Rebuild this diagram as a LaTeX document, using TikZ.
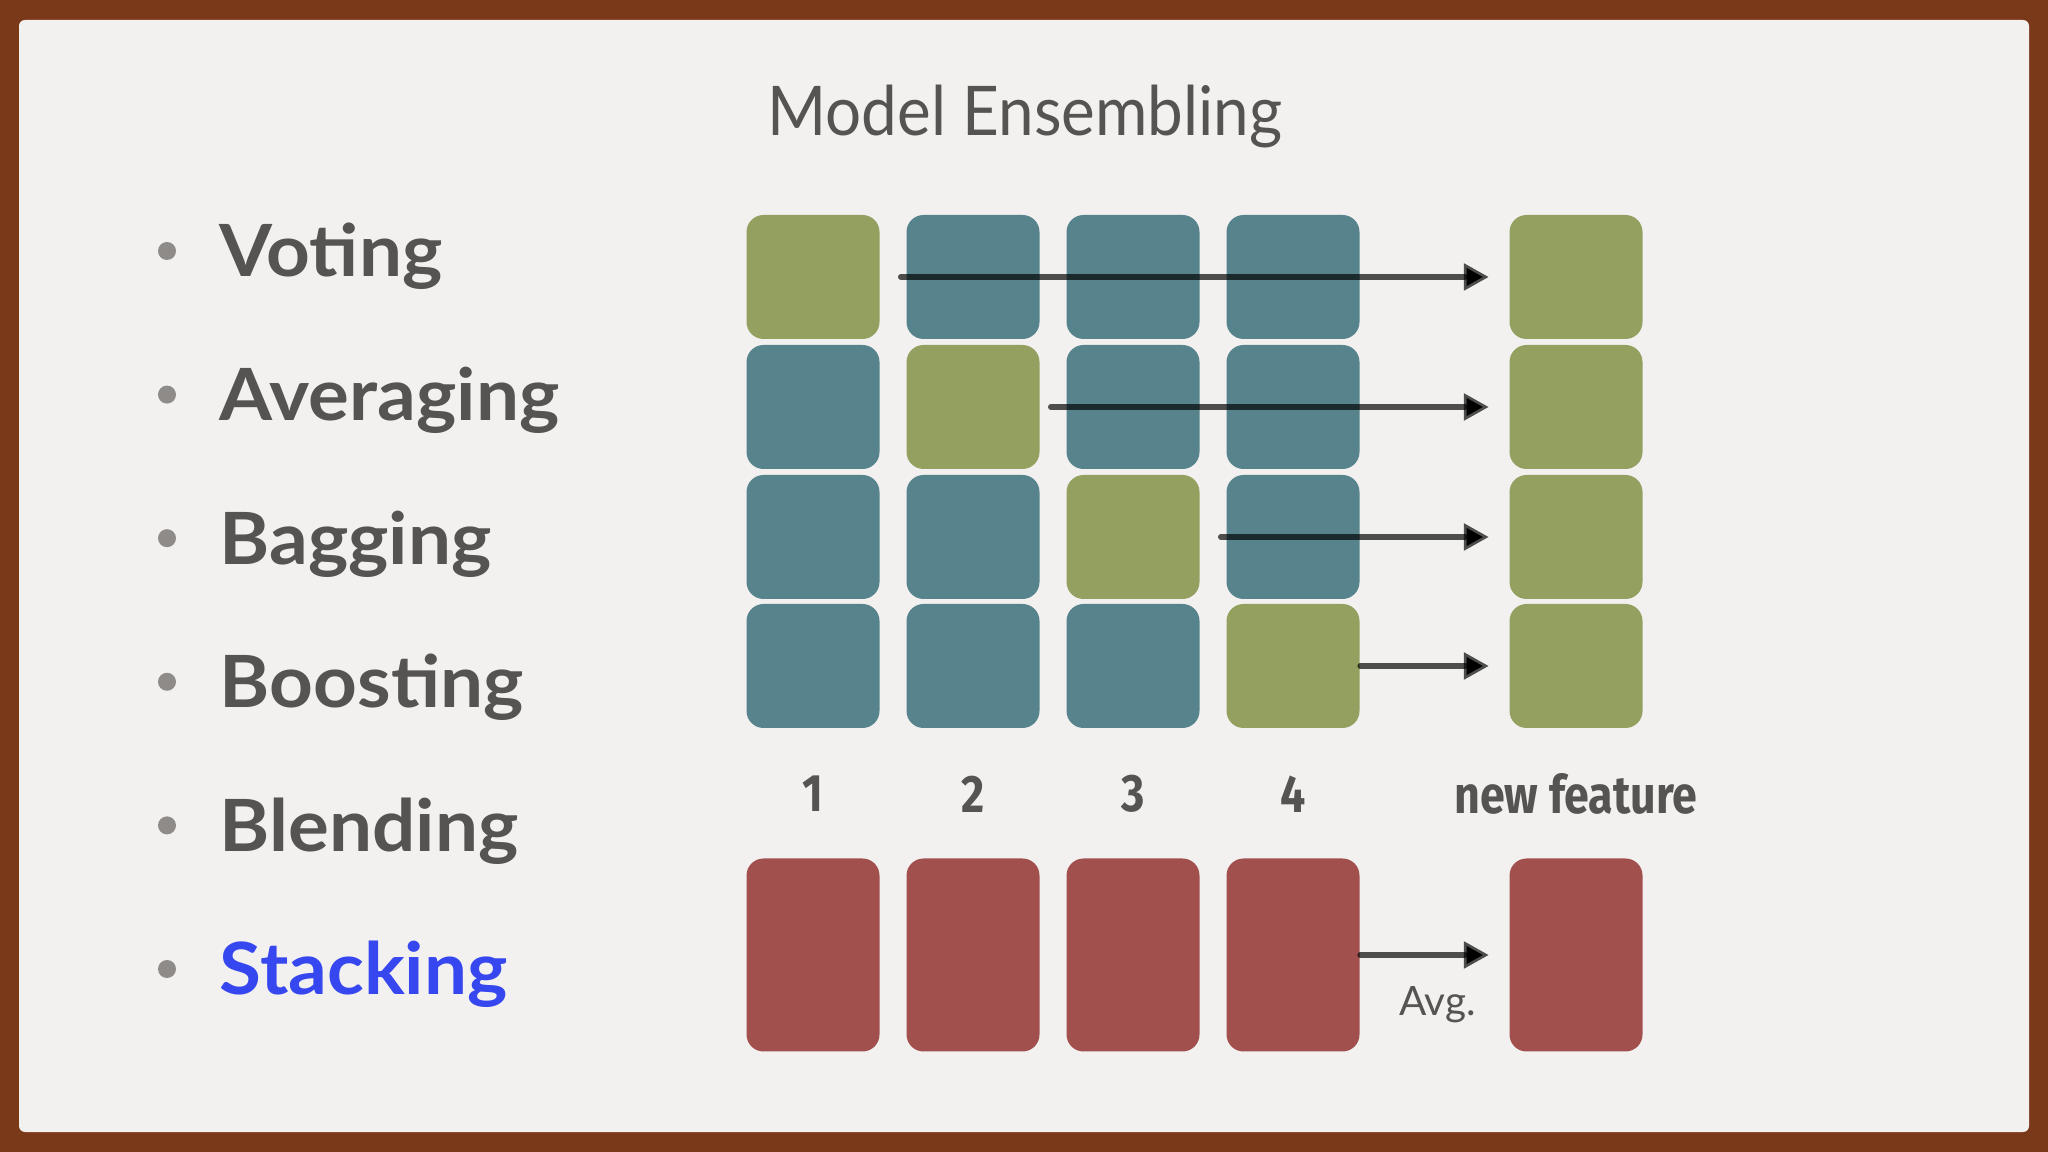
\documentclass[tikz,border=0pt]{standalone}
\usepackage{fontspec}
\setmainfont{Lato}
\newfontfamily\titlefont{Lato}[FakeStretch=0.93]
\newfontfamily\itemfont{Lato}[FakeStretch=1.06]
\newfontfamily\numfont{Fira Sans}[FakeStretch=0.85]
\usetikzlibrary{arrows.meta}

\definecolor{framebrown}{HTML}{7A3A1A}
\definecolor{paper}{HTML}{F2F1EF}
\definecolor{ink}{HTML}{555453}
\definecolor{dotgray}{HTML}{8E8B89}
\definecolor{olivebox}{HTML}{93A060}
\definecolor{tealbox}{HTML}{56838C}
\definecolor{brickbox}{HTML}{A2504E}
\definecolor{stackblue}{HTML}{3747F0}

\begin{document}
\begin{tikzpicture}[x=0.1mm, y=-0.1mm,
    box/.style={rectangle, rounded corners=1.7mm, minimum width=13.3mm, minimum height=12.4mm, inner sep=0pt},
    tallbox/.style={box, fill=brickbox, minimum height=19.3mm},
    item/.style={anchor=base west, inner sep=0pt, font=\itemfont\fontsize{20.5}{24}\selectfont\bfseries},
    dot/.style={circle, fill=dotgray, minimum size=1.8mm, inner sep=0pt},
    colnum/.style={text=ink, font=\numfont\fontsize{15}{18}\selectfont\bfseries},
    stroke/.style={draw=black, draw opacity=0.68, line width=1.6pt, line cap=round,
      -{Triangle[length=2.5mm, width=2.6mm]}, shorten >=2mm}]

  % Frame and paper
  \fill[framebrown] (0,0) rectangle (2048,1152);
  \fill[paper, rounded corners=0.6mm] (19,20) rectangle (2029,1132);

  % Title
  \node[text=ink, font=\titlefont\fontsize{19.5}{24}\selectfont] (title) at (1025,117) {Model Ensembling};

  % Bullet list
  \foreach \name/\col [count=\i] in {Voting/ink, Averaging/ink, Bagging/ink, Boosting/ink, Blending/ink, Stacking/stackblue} {
    \node[dot] (dot\i) at (167, {251+(\i-1)*143.6}) {};
    \node[item, text=\col] (item\i) at (219, {277+(\i-1)*143.6}) {\name};
  }

  % Model grid
  \foreach \c/\x in {1/813, 2/973, 3/1133, 4/1293} {
    \foreach \r/\y in {1/277, 2/407, 3/537, 4/666} {
      \ifnum\r=\c \def\fillcol{olivebox}\else\def\fillcol{tealbox}\fi
      \node[box, fill=\fillcol] (m\r-\c) at (\x,\y) {};
    }
    \node[tallbox] (p\c) at (\x,955) {};
    \node[colnum] (n\c) at (\x,794) {\c};
  }

  % New feature column
  \foreach \r/\y in {1/277, 2/407, 3/537, 4/666} {
    \node[box, fill=olivebox] (nf\r) at (1576,\y) {};
  }
  \node[tallbox] (pnew) at (1576,955) {};
  \node[colnum] (nnew) at (1576,794) {new feature};

  % Arrows
  \foreach \r/\c/\s in {1/2/0.5, 2/3/1.5, 3/4/0.5} {
    \draw[stroke] ([xshift=-\s mm]m\r-\c.west) -- (nf\r);
  }
  \draw[stroke] (m4-4) -- (nf4);
  \draw[stroke] (p4) -- (pnew) node[pos=0.52, below=1.7mm, text=ink, font=\fontsize{11.5}{13}\selectfont] (avg) {Avg.};
\end{tikzpicture}
\end{document}
